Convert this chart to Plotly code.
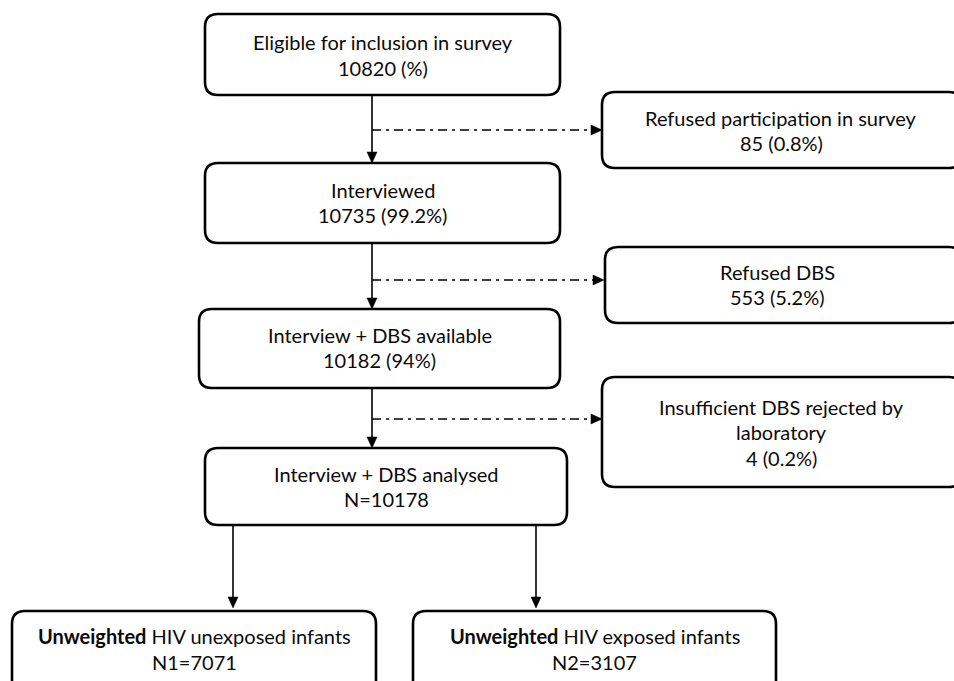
import plotly.graph_objects as go

# ---- data ----
box_titles = [
    "Eligible for inclusion in survey",
    "Refused participation in survey",
    "Interviewed",
    "Refused DBS",
    "Interview + DBS available",
    "Insufficient DBS rejected by<br>laboratory",
    "Interview + DBS analysed",
    "<b>Unweighted</b> HIV unexposed infants",
    "<b>Unweighted</b> HIV exposed infants",
]
box_counts = [
    "10820 (%)",
    "85 (0.8%)",
    "10735 (99.2%)",
    "553 (5.2%)",
    "10182 (94%)",
    "4 (0.2%)",
    "N=10178",
    "N1=7071",
    "N2=3107",
]

# ---- layout geometry (pixels) ----
W, H = 954, 681
boxes = [  # x0, y0, x1, y1
    (205, 14, 560, 95),
    (602, 92, 962, 168),
    (205, 163, 560, 243),
    (605, 247, 962, 323),
    (199, 309, 560, 388),
    (602, 377, 962, 487),
    (205, 448, 567, 525),
    (12, 611, 376, 694),
    (413, 611, 776, 694),
]
text_y = [
    [42, 68],
    [118, 143],
    [190, 215],
    [272, 297],
    [335, 360],
    [407, 432, 458],
    [474, 499],
    [636, 662],
    [636, 662],
]

FONT = "Lato"
FS = 20


def rrect(x0, y0, x1, y1, r=13):
    return (f"M {x0+r},{y0} L {x1-r},{y0} Q {x1},{y0} {x1},{y0+r} "
            f"L {x1},{y1-r} Q {x1},{y1} {x1-r},{y1} L {x0+r},{y1} "
            f"Q {x0},{y1} {x0},{y1-r} L {x0},{y0+r} Q {x0},{y0} {x0+r},{y0} Z")


shapes = []
annotations = []
for i, (x0, y0, x1, y1) in enumerate(boxes):
    shapes.append(dict(type="path", path=rrect(x0, y0, x1, y1),
                       line=dict(color="black", width=2.6),
                       fillcolor="white", layer="above"))
    cx = (x0 + min(x1, 958)) / 2
    if i in (1, 3, 5):
        cx = 781 if i != 3 else 777
    lines = box_titles[i].split("<br>") + [box_counts[i]]
    for ln, yy in zip(lines, text_y[i]):
        annotations.append(dict(x=cx, y=yy, text=ln, showarrow=False,
                                xanchor="center", yanchor="middle",
                                font=dict(family=FONT, size=FS, color="#0a0a0a")))


def vline_arrow(x, y0, y1):
    shapes.append(dict(type="line", x0=x, x1=x, y0=y0, y1=y1 - 8,
                       line=dict(color="black", width=1.6)))
    shapes.append(dict(type="path",
                       path=f"M {x-5},{y1-11} L {x+5},{y1-11} L {x},{y1} Z",
                       fillcolor="black", line=dict(color="black", width=0.5)))


def hline_arrow(y, x0, x1):
    shapes.append(dict(type="line", x0=x0, x1=x1 - 9, y0=y, y1=y,
                       line=dict(color="black", width=1.6,
                                 dash="9px,5px,3px,5px")))
    shapes.append(dict(type="path",
                       path=f"M {x1-11},{y-5} L {x1-11},{y+5} L {x1},{y} Z",
                       fillcolor="black", line=dict(color="black", width=0.5)))


vline_arrow(372, 95, 163)
hline_arrow(130, 372, 602)
vline_arrow(372, 243, 309)
hline_arrow(280, 372, 604)
vline_arrow(372, 388, 448)
hline_arrow(419, 372, 602)
vline_arrow(233, 525, 608)
vline_arrow(536, 525, 608)

fig = go.Figure()
fig.add_trace(go.Scatter(x=[0, W], y=[0, H], mode="markers",
                         marker=dict(opacity=0), hoverinfo="skip",
                         showlegend=False))
fig.update_layout(
    width=W, height=H, autosize=False,
    margin=dict(l=0, r=0, t=0, b=0),
    paper_bgcolor="white", plot_bgcolor="white",
    xaxis=dict(range=[0, W], visible=False, fixedrange=True),
    yaxis=dict(range=[H, 0], visible=False, fixedrange=True),
    shapes=shapes, annotations=annotations, showlegend=False,
)
fig.write_html("out.html", config={"displayModeBar": False},
               post_script="document.body.style.margin='0';document.body.style.overflow='hidden';")
